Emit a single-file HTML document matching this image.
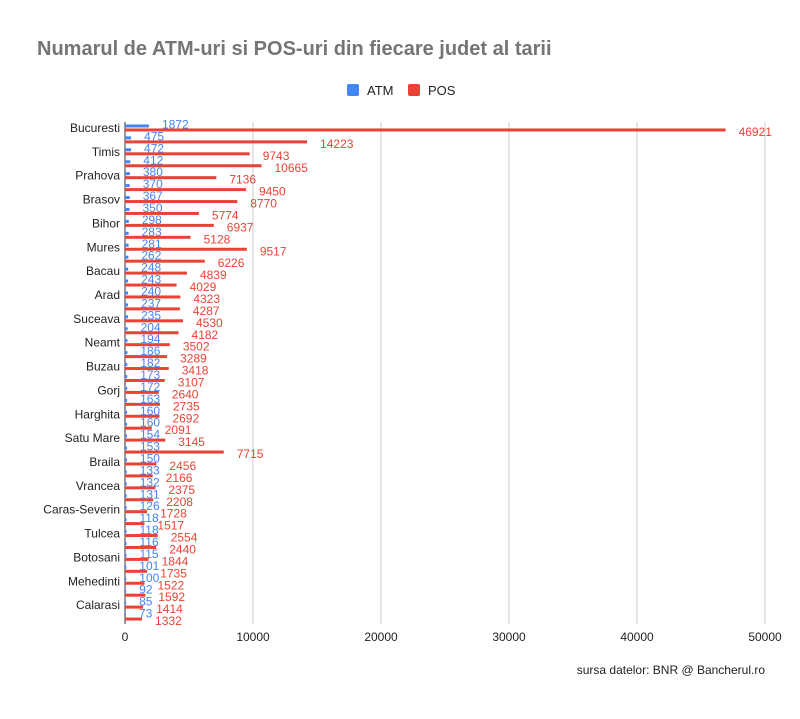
<!DOCTYPE html>
<html><head><meta charset="utf-8"><style>
body{margin:0;background:#fff;width:800px;height:714px;overflow:hidden;font-family:"Liberation Sans",Arial,sans-serif}
</style></head><body>
<svg id="chart" width="800" height="714" xmlns="http://www.w3.org/2000/svg">
<text x="37" y="55" font-size="20" font-weight="bold" fill="#757575">Numarul de ATM-uri si POS-uri din fiecare judet al tarii</text>
<g>
<rect x="347" y="84" width="12" height="12" rx="2" fill="#4285f4"/>
<text x="367" y="95" font-size="13" fill="#222">ATM</text>
<rect x="408" y="84" width="12" height="12" rx="2" fill="#ea4335"/>
<text x="428" y="95" font-size="13" fill="#222">POS</text>
</g>
<g id="grid"></g><g id="bars"></g><g id="labels"></g><g id="yax"></g><g id="xax"></g>
<text x="765" y="674" font-size="12" fill="#222" text-anchor="end">sursa datelor: BNR @ Bancherul.ro</text>
</svg>
<script>
const categories=["Bucuresti","Cluj","Timis","Constanta","Prahova","Iasi","Brasov","Dolj","Bihor","Ilfov","Mures","Sibiu","Bacau","Arges","Arad","Galati","Suceava","Hunedoara","Neamt","Alba","Buzau","Maramures","Gorj","Bistrita-Nasaud","Harghita","Dambovita","Satu Mare","Valcea","Braila","Olt","Vrancea","Teleorman","Caras-Severin","Vaslui","Tulcea","Covasna","Botosani","Ialomita","Mehedinti","Salaj","Calarasi","Giurgiu"];
const atmValues=[1872,475,472,412,380,370,367,350,298,283,281,262,248,243,240,237,235,204,194,186,182,173,172,163,160,160,154,153,150,133,132,131,126,118,118,116,115,101,100,92,85,73];
const posValues=[46921,14223,9743,10665,7136,9450,8770,5774,6937,5128,9517,6226,4839,4029,4323,4287,4530,4182,3502,3289,3418,3107,2640,2735,2692,2091,3145,7715,2456,2166,2375,2208,1728,1517,2554,2440,1844,1735,1522,1592,1414,1332];
const xTicks=[0,10000,20000,30000,40000,50000];
const NS="http://www.w3.org/2000/svg";
const x0=125,x1=765,yTop=122,yBot=623,xMax=50000;
const band=(yBot-yTop)/categories.length;
const xs=v=>x0+v/xMax*(x1-x0);
function mk(tag,attrs,parent,txt){const e=document.createElementNS(NS,tag);for(const k in attrs)e.setAttribute(k,attrs[k]);if(txt!=null)e.textContent=txt;document.getElementById(parent).appendChild(e);return e;}
xTicks.forEach((t,i)=>{
 const g=mk("line",{x1:xs(t),x2:xs(t),y1:yTop,y2:yBot+1,stroke:i===0?"#333":"#ccc","stroke-width":1},"grid");
 
 
 const l=mk("text",{x:xs(t),y:641,"font-size":12,fill:"#222","text-anchor":"middle"},"xax",t);
 
 
});
categories.forEach((c,i)=>{
 const yc=yTop+band*(i+0.5);
 const a=mk("rect",{x:x0,y:yc-3.5,width:xs(atmValues[i])-x0,height:3,fill:"#4285f4"},"bars");
 
 
 const p=mk("rect",{x:x0,y:yc+0.5,width:xs(posValues[i])-x0,height:3,fill:"#ea4335"},"bars");
 
 
 const la=mk("text",{x:xs(atmValues[i])+13,y:yc+0.5,"font-size":12,fill:"#4285f4"},"labels",atmValues[i]);
 
 
 const lp=mk("text",{x:xs(posValues[i])+13,y:yc+8,"font-size":12,fill:"#ea4335"},"labels",posValues[i]);
 
 
 if(i%2===0){
  const yl=mk("text",{x:120,y:yc+4,"font-size":12,fill:"#222","text-anchor":"end"},"yax",c);
  
  
 }
});
</script>
</body></html>
